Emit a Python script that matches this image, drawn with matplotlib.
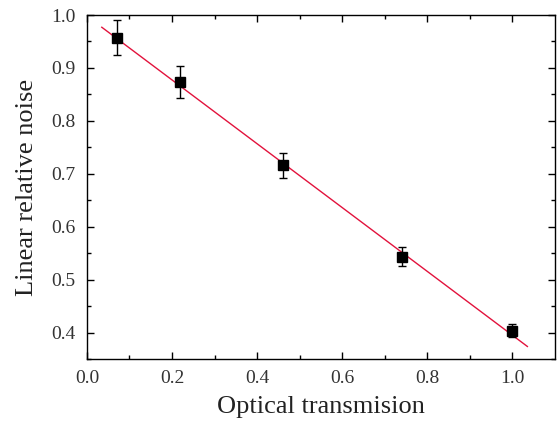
import matplotlib
matplotlib.use('Agg')
import matplotlib.pyplot as plt
import numpy as np

# measured points
transmission = [0.07, 0.218, 0.46, 0.74, 1.0]
noise = [0.957, 0.873, 0.716, 0.543, 0.404]
noise_err = [0.033, 0.030, 0.024, 0.018, 0.012]

# linear fit
fit_x = [0.035, 1.035]
fit_intercept = 0.998
fit_slope = -0.603

plt.rcParams['font.family'] = ['Liberation Serif', 'DejaVu Serif']

fig = plt.figure(figsize=(5.57, 4.23), dpi=100)
ax = fig.add_axes([0.156, 0.151, 0.8405, 0.8135])

fx = np.array(fit_x)
ax.plot(fx, fit_intercept + fit_slope * fx, color='#e2123c', lw=1.0, zorder=2)
ax.errorbar(transmission, noise, yerr=noise_err, fmt='s', color='black',
            ms=6.5, elinewidth=1.0, capsize=3, capthick=1.0, zorder=3)

ax.set_xlim(0, 1.1)
ax.set_ylim(0.35, 1.0)
ax.set_xticks([0.0, 0.2, 0.4, 0.6, 0.8, 1.0])
ax.set_xticks(np.arange(0.1, 1.1, 0.2), minor=True)
ax.set_yticks([0.4, 0.5, 0.6, 0.7, 0.8, 0.9, 1.0])
ax.set_yticks(np.arange(0.35, 1.0, 0.1), minor=True)
ax.xaxis.set_major_formatter(plt.FormatStrFormatter('%.1f'))
ax.yaxis.set_major_formatter(plt.FormatStrFormatter('%.1f'))

ax.tick_params(which='both', direction='in', top=True, right=True,
               labelsize=14, labelcolor='#333333', width=1.0)
ax.tick_params(which='major', length=5, pad=8)
ax.tick_params(which='minor', length=3)
for s in ax.spines.values():
    s.set_linewidth(1.0)

ax.set_xlabel('Optical transmision', fontsize=19, color='#222222', labelpad=6)
ax.set_ylabel('Linear relative noise', fontsize=19, color='#222222', labelpad=10)

plt.savefig('out.png', dpi=100)
plt.close(fig)
